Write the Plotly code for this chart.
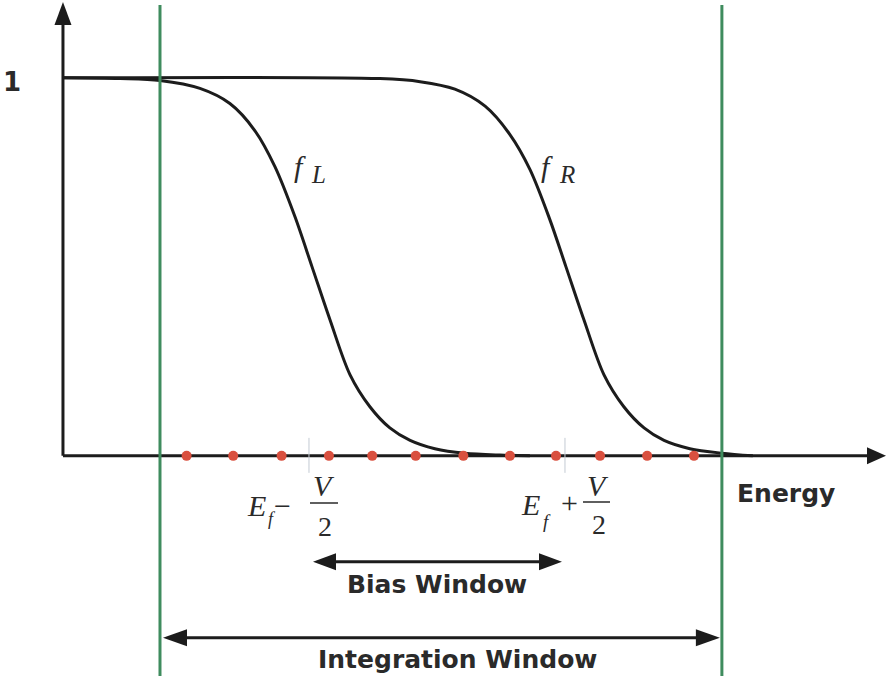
import plotly.graph_objects as go

# Energy measured from the Fermi level, in units of the applied bias V
EF = 0.0
V = 1.0

# Occupation of the left contact, f_L(E)
energy_left = [-1.461, -1.238, -1.082, -0.926, -0.809, -0.711, -0.633, -0.555, -0.488,
               -0.418, -0.340, -0.262, -0.184, -0.105, -0.008, 0.109, 0.246, 0.363]
occ_left = [1.000, 0.998, 0.993, 0.972, 0.932, 0.860, 0.765, 0.633, 0.500,
            0.360, 0.215, 0.130, 0.074, 0.041, 0.019, 0.007, 0.002, 0.000]

# Occupation of the right contact, f_R(E)
energy_right = [-1.461, -0.223, -0.066, 0.070, 0.188, 0.285, 0.363, 0.441, 0.504,
                0.574, 0.652, 0.730, 0.809, 0.887, 0.988, 1.113, 1.234]
occ_right = [1.000, 0.998, 0.990, 0.970, 0.925, 0.850, 0.758, 0.625, 0.500,
             0.360, 0.215, 0.130, 0.074, 0.041, 0.019, 0.007, 0.000]

# Energy grid points used for the numerical integration
grid_energy = [-0.978, -0.796, -0.607, -0.422, -0.253, -0.083,
               0.103, 0.285, 0.465, 0.637, 0.821, 1.004]

integration_window = [-1.082, 1.113]
bias_window = [EF - V / 2, EF + V / 2]

# Axis geometry (energy of the vertical axis, ends of both axes)
E_AXIS = -1.461
E_AXIS_END = 1.754
F_AXIS_END = 1.201

W, H = 887, 680
X_RANGE = [-1.707, 1.758]
Y_RANGE = [-0.593, 1.206]
PX_E = W / (X_RANGE[1] - X_RANGE[0])
PX_F = H / (Y_RANGE[1] - Y_RANGE[0])

INK = "#1c1c1c"
TEXT = "#2a2a2a"
GREEN = "#3f8c5e"
DOT = "#d9503f"
SERIF = "Liberation Serif"
SANS = "DejaVu Sans"


def head(x, y, direction, length=22, half=8.5, color=INK):
    """Filled arrow head whose tip sits at data point (x, y); sizes in pixels."""
    if direction == "right":
        pts = [(0, 0), (-length, half), (-length, -half)]
    elif direction == "left":
        pts = [(0, 0), (length, half), (length, -half)]
    else:  # up
        pts = [(0, 0), (-half, -length), (half, -length)]
    path = "M{},{} L{},{} L{},{} Z".format(*[c for p in pts for c in p])
    return dict(type="path", xref="x", yref="y", xsizemode="pixel", ysizemode="pixel",
                xanchor=x, yanchor=y, path=path, fillcolor=color,
                line=dict(width=0), layer="above")


def hline(x0, x1, y, width=3, color=INK, layer="above"):
    return dict(type="line", xref="x", yref="y", x0=x0, x1=x1, y0=y, y1=y,
                line=dict(color=color, width=width), layer=layer)


def label(text, px, py, size, family=SERIF, color=TEXT, italic=False, bold=False,
          xanchor="center"):
    return dict(text=text, x=px / W, y=1 - py / H, xref="paper", yref="paper",
                showarrow=False, xanchor=xanchor, yanchor="middle",
                font=dict(family=family, size=size, color=color,
                          style="italic" if italic else "normal",
                          weight=700 if bold else 400))


fig = go.Figure()

curve_style = dict(color=INK, width=3, shape="spline", smoothing=0.9)
fig.add_trace(go.Scatter(x=energy_left, y=occ_left, mode="lines",
                         line=curve_style, hoverinfo="skip"))
fig.add_trace(go.Scatter(x=energy_right, y=occ_right, mode="lines",
                         line=curve_style, hoverinfo="skip"))
fig.add_trace(go.Scatter(x=grid_energy, y=[0.0] * len(grid_energy), mode="markers",
                         marker=dict(color=DOT, size=10, line=dict(width=0)),
                         hoverinfo="skip"))

shapes = []

# Coordinate axes with arrow heads
shapes.append(dict(type="line", xref="x", yref="y", x0=E_AXIS, x1=E_AXIS,
                   y0=0, y1=F_AXIS_END - 20 / PX_F,
                   line=dict(color=INK, width=3), layer="below"))
shapes.append(head(E_AXIS, F_AXIS_END, "up", length=23, half=8.5))
shapes.append(hline(E_AXIS, E_AXIS_END - 16 / PX_E, 0, layer="below"))
shapes.append(head(E_AXIS_END, 0, "right", length=19, half=8.5))

# Markers at E_f -/+ V/2
for e in bias_window:
    shapes.append(dict(type="line", xref="x", yref="y", x0=e, x1=e,
                       y0=18 / PX_F, y1=-17 / PX_F,
                       line=dict(color="#c3cbd3", width=1), layer="below"))

# Integration window limits
for e in integration_window:
    shapes.append(dict(type="line", xref="x", yref="paper", x0=e, x1=e,
                       y0=1 - 676 / H, y1=1 - 5 / H,
                       line=dict(color=GREEN, width=3), layer="above"))

# Bias window double arrow
F_BIAS = -106 / PX_F
b_lo = bias_window[0] + 4 / PX_E
b_hi = bias_window[1] - 3 / PX_E
shapes.append(hline(b_lo + 14 / PX_E, b_hi - 14 / PX_E, F_BIAS))
shapes.append(head(b_lo, F_BIAS, "left", length=23, half=8.5))
shapes.append(head(b_hi, F_BIAS, "right", length=23, half=8.5))

# Integration window double arrow
F_INT = -182 / PX_F
x_lo = integration_window[0] + 3 / PX_E
x_hi = integration_window[1] - 2 / PX_E
shapes.append(hline(x_lo + 14 / PX_E, x_hi - 14 / PX_E, F_INT))
shapes.append(head(x_lo, F_INT, "left", length=24, half=8.5))
shapes.append(head(x_hi, F_INT, "right", length=24, half=8.5))

# Fraction bars of V/2
for x0, x1, py in [(310, 338, 503), (583, 610, 502)]:
    shapes.append(dict(type="line", xref="paper", yref="paper",
                       x0=x0 / W, x1=x1 / W, y0=1 - py / H, y1=1 - py / H,
                       line=dict(color=TEXT, width=1.5)))

annotations = [
    label("1", 12, 82, 26, family=SANS, bold=True),
    label("Energy", 786, 493, 25, family=SANS, bold=True),
    label("Bias Window", 436.5, 584, 25, family=SANS, bold=True),
    label("Integration Window", 457.5, 659, 25, family=SANS, bold=True),
    # f_L and f_R
    label("f", 300, 166, 30, italic=True),
    label("L", 318, 174, 25, italic=True),
    label("f", 547, 166, 30, italic=True),
    label("R", 567, 174, 25, italic=True),
    # E_f - V/2
    label("E", 256, 505, 30, italic=True),
    label("f", 271.5, 519, 18, italic=True),
    label("\u2212", 282, 505, 30),
    label("V", 324, 485, 30, italic=True),
    label("2", 325, 526, 28),
    # E_f + V/2
    label("E", 530.5, 504, 30, italic=True),
    label("f", 547, 521, 19, italic=True),
    label("+", 569.5, 502, 30),
    label("V", 597.5, 485, 30, italic=True),
    label("2", 598.5, 524, 28),
]

fig.update_layout(
    width=W, height=H,
    margin=dict(l=0, r=0, t=0, b=0),
    paper_bgcolor="white", plot_bgcolor="white",
    showlegend=False,
    xaxis=dict(range=X_RANGE, visible=False, fixedrange=True),
    yaxis=dict(range=Y_RANGE, visible=False, fixedrange=True),
    shapes=shapes,
    annotations=annotations,
)

fig.write_html("out.html")
